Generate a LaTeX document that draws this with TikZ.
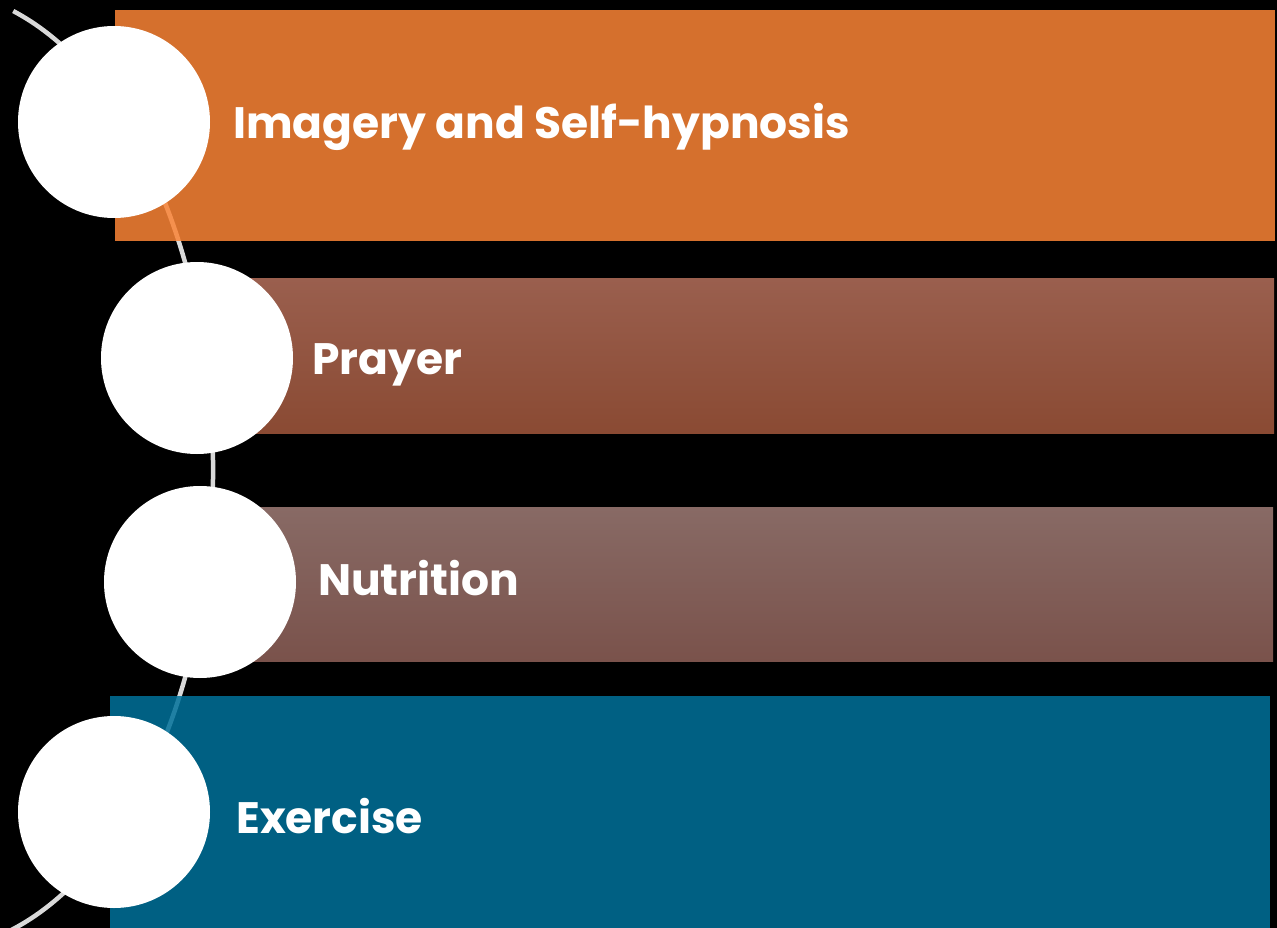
\documentclass[tikz,border=0pt]{standalone}
\usepackage{fontspec}
\setmainfont{Poppins}
\usetikzlibrary{positioning}
\definecolor{orangebar}{HTML}{FB8436}
\definecolor{tealbar}{HTML}{00719A}
\definecolor{rusttop}{HTML}{9A5F4E}
\definecolor{rustbot}{HTML}{8A4A33}
\definecolor{mauvetop}{HTML}{886A65}
\definecolor{mauvebot}{HTML}{7A524B}
\definecolor{arcgray}{HTML}{D9D9D9}
\tikzstyle{bar} = [rectangle, draw=none, anchor=north west, inner sep=0pt]
\tikzstyle{dot} = [circle, fill=white, draw=none, minimum size=192pt, inner sep=0pt]
\tikzstyle{itemtext} = [anchor=base west, text=white, inner sep=0pt,
    font=\fontsize{44}{44}\selectfont\bfseries]
\tikzstyle{curve} = [draw=arcgray, line width=4.5pt]

\begin{document}
\begin{tikzpicture}[x=1pt,y=-1pt]
    % Canvas
    \fill[black] (0,0) rectangle (1277,928);
    \useasboundingbox (0,0) rectangle (1277,928);

    % Curve behind the circles
    \begin{scope}
    \clip (0,0) rectangle (1277,928);
    \coordinate (arcC) at (-72,470);
    \path[curve] (arcC) ++(-72.6:285 and 481) arc[start angle=-72.6, end angle=82, x radius=285, y radius=481];
    \end{scope}

    % Bars
    \node[bar, fill=orangebar, fill opacity=0.85, minimum width=1160pt, minimum height=231pt] (barA) at (115,10) {};
    \node[bar, top color=rusttop, bottom color=rustbot, minimum width=1074pt, minimum height=155pt] (barB) at (200,278) {};
    \node[bar, top color=mauvetop, bottom color=mauvebot, minimum width=1073pt, minimum height=154pt] (barC) at (200,507) {};
    \node[bar, fill=tealbar, fill opacity=0.85, minimum width=1160pt, minimum height=232pt] (barD) at (110,696) {};

    % Circles
    \node[dot] (dotA) at (114,122) {};
    \node[dot] (dotB) at (197,358) {};
    \node[dot] (dotC) at (200,582) {};
    \node[dot] (dotD) at (114,812) {};

    % Texts
    \node[itemtext] (txtA) at (233,139) {Imagery and Self-hypnosis};
    \node[itemtext] (txtB) at (312,374) {Prayer};
    \node[itemtext] (txtC) at (318,595) {Nutrition};
    \node[itemtext] (txtD) at (236,833) {Exercise};
\end{tikzpicture}
\end{document}
